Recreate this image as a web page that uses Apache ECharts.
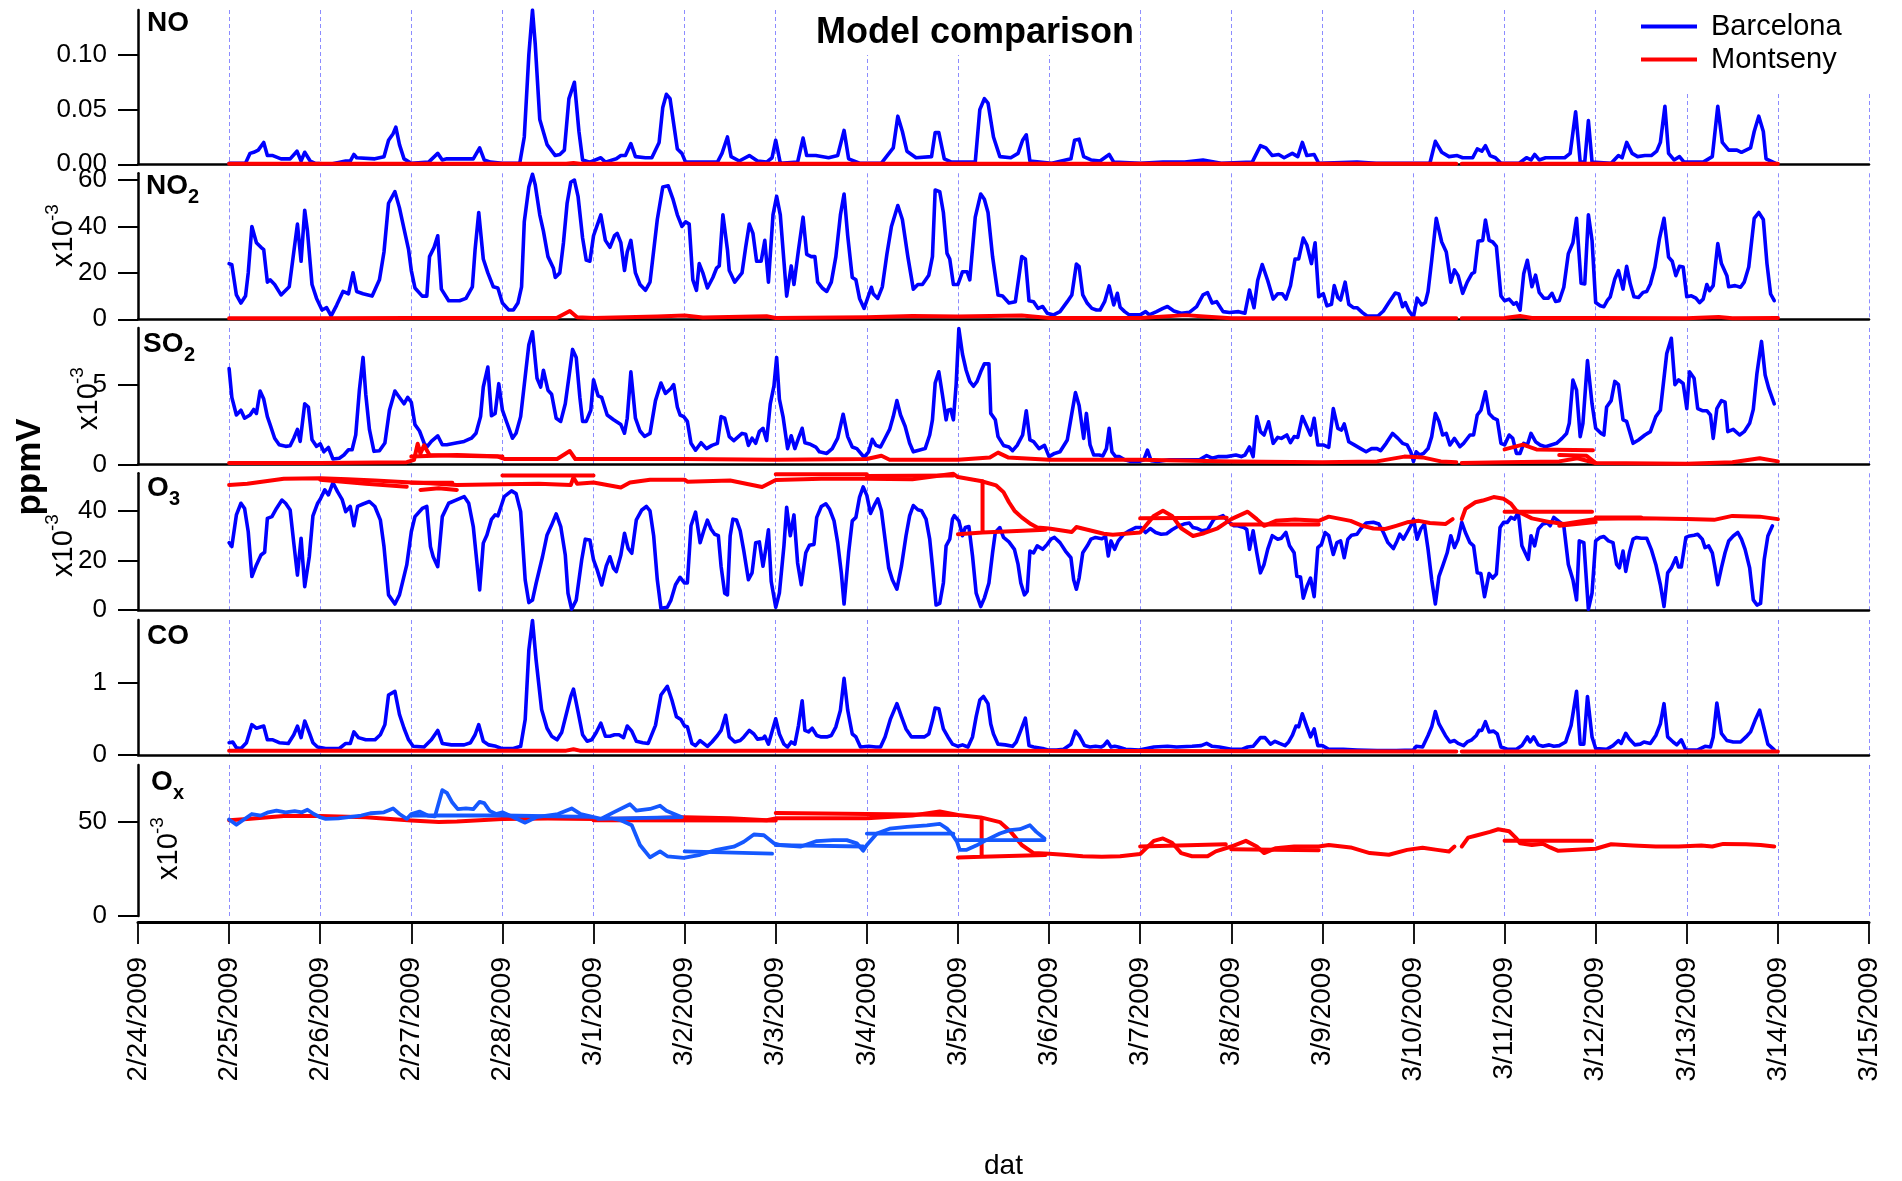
<!DOCTYPE html>
<html><head><meta charset="utf-8">
<script src="https://cdn.jsdelivr.net/npm/echarts@6/dist/echarts.min.js"></script>
<style>html,body{margin:0;padding:0;background:#fff}#c{width:1902px;height:1181px}</style>
</head><body><div id="c"></div>
<script>
// ---------- DATA ----------
const dateLabels = ['2/24/2009','2/25/2009','2/26/2009','2/27/2009','2/28/2009','3/1/2009','3/2/2009','3/3/2009','3/4/2009','3/5/2009','3/6/2009','3/7/2009','3/8/2009','3/9/2009','3/10/2009','3/11/2009','3/12/2009','3/13/2009','3/14/2009','3/15/2009'];
const yTicksNO = [0, 0.05, 0.10];
const yTicksNO2 = [0, 20, 40, 60];
const yTicksSO2 = [0, 5];
const yTicksO3 = [0, 20, 40];
const yTicksCO = [0, 1];
const yTicksOx = [0, 50];
// x = days after 2/24/2009 00:00

const noBcn = [[1,0.001],[1.18,0.001],[1.23,0.010],[1.27,0.011],[1.32,0.013],[1.38,0.020],[1.42,0.008],[1.48,0.008],[1.57,0.005],[1.67,0.005],[1.745,0.012],[1.79,0.003],[1.83,0.011],[1.89,0.003],[1.94,0.001],[2.11,0.0],[2.28,0.003],[2.33,0.003],[2.37,0.009],[2.40,0.006],[2.60,0.005],[2.70,0.007],[2.75,0.022],[2.80,0.028],[2.83,0.034],[2.87,0.018],[2.92,0.005],[3.0,0.001],[3.19,0.002],[3.29,0.010],[3.34,0.004],[3.39,0.005],[3.68,0.005],[3.75,0.015],[3.80,0.004],[3.87,0.002],[4.0,0.001],[4.19,0.001],[4.24,0.025],[4.29,0.100],[4.33,0.141],[4.36,0.110],[4.41,0.041],[4.49,0.018],[4.58,0.008],[4.63,0.009],[4.68,0.013],[4.73,0.060],[4.79,0.075],[4.84,0.030],[4.88,0.004],[4.96,0.002],[5.08,0.006],[5.13,0.002],[5.25,0.005],[5.30,0.008],[5.35,0.008],[5.41,0.019],[5.46,0.007],[5.57,0.006],[5.64,0.006],[5.72,0.020],[5.76,0.052],[5.80,0.064],[5.84,0.060],[5.92,0.014],[5.97,0.010],[6.01,0.002],[6.36,0.002],[6.41,0.010],[6.47,0.025],[6.51,0.007],[6.60,0.003],[6.71,0.008],[6.80,0.003],[6.90,0.002],[6.96,0.006],[7.0,0.022],[7.05,0.001],[7.24,0.002],[7.30,0.024],[7.34,0.008],[7.44,0.008],[7.58,0.006],[7.68,0.008],[7.75,0.031],[7.80,0.005],[7.92,0.001],[8.16,0.001],[8.29,0.015],[8.34,0.044],[8.39,0.030],[8.44,0.012],[8.54,0.006],[8.71,0.007],[8.75,0.029],[8.79,0.029],[8.85,0.005],[8.93,0.002],[9.19,0.002],[9.24,0.050],[9.29,0.060],[9.33,0.056],[9.39,0.025],[9.46,0.007],[9.58,0.006],[9.66,0.010],[9.71,0.022],[9.75,0.027],[9.79,0.003],[10.03,0.001],[10.24,0.005],[10.28,0.022],[10.33,0.023],[10.38,0.007],[10.46,0.004],[10.56,0.003],[10.66,0.009],[10.71,0.002],[11.0,0.001],[11.25,0.002],[11.49,0.002],[11.69,0.004],[11.89,0.001],[12.23,0.002],[12.32,0.017],[12.38,0.015],[12.45,0.008],[12.52,0.009],[12.58,0.006],[12.67,0.010],[12.73,0.007],[12.78,0.020],[12.83,0.008],[12.91,0.009],[12.96,0.001],[13.38,0.002],[13.59,0.001],[14.18,0.001],[14.24,0.021],[14.31,0.011],[14.39,0.007],[14.48,0.008],[14.54,0.006],[14.65,0.006],[14.70,0.014],[14.75,0.012],[14.79,0.017],[14.84,0.008],[14.90,0.006],[14.96,0.001],[15.16,0.001],[15.24,0.006],[15.29,0.004],[15.33,0.009],[15.38,0.004],[15.45,0.006],[15.66,0.006],[15.72,0.010],[15.78,0.048],[15.83,0.002],[15.88,0.002],[15.92,0.040],[15.96,0.002],[16.17,0.001],[16.25,0.008],[16.29,0.006],[16.34,0.020],[16.40,0.010],[16.46,0.007],[16.54,0.008],[16.61,0.008],[16.67,0.012],[16.71,0.020],[16.76,0.053],[16.80,0.010],[16.86,0.004],[16.92,0.007],[16.97,0.002],[17.18,0.002],[17.28,0.007],[17.34,0.053],[17.39,0.020],[17.46,0.013],[17.55,0.013],[17.60,0.011],[17.70,0.015],[17.74,0.030],[17.79,0.044],[17.84,0.030],[17.87,0.005],[17.97,0.001]];
const noMsy = [[1,0.0005],[4.7,0.0006],[4.78,0.0012],[4.85,0.0006],[9,0.0006],[14.47,0.0005],[14.5,'-'],[14.53,0.0005],[18,0.0005]];

const no2Bcn = [[1.0,24],[1.03,23.5],[1.08,10.5],[1.13,7],[1.18,10],[1.21,20],[1.25,40],[1.30,33],[1.35,31],[1.38,30],[1.42,16],[1.45,17],[1.50,15],[1.57,10.5],[1.66,14],[1.75,41],[1.79,25],[1.83,47],[1.86,38],[1.91,15],[1.96,9],[2.02,4],[2.07,5],[2.12,1.5],[2.18,6],[2.25,12],[2.31,11],[2.36,20],[2.40,12],[2.47,11],[2.57,10],[2.65,17],[2.70,29],[2.75,50],[2.82,55],[2.87,48],[2.92,39],[2.97,30],[3.0,21],[3.04,13.5],[3.12,10],[3.17,10],[3.20,27],[3.25,31],[3.29,36],[3.33,13],[3.41,8],[3.53,8],[3.60,9],[3.67,14],[3.70,30],[3.74,46],[3.79,26],[3.84,20],[3.90,14],[3.95,13.5],[4.0,7],[4.07,4],[4.12,4],[4.17,7],[4.21,14],[4.24,42],[4.29,57],[4.33,62.5],[4.36,58],[4.41,45],[4.45,38],[4.50,27],[4.56,22],[4.58,18],[4.63,20],[4.67,33],[4.71,50],[4.75,59],[4.79,60],[4.83,53],[4.88,35],[4.92,25.5],[4.96,25],[5.0,36],[5.08,45],[5.13,34],[5.18,31],[5.23,36],[5.26,37],[5.30,33],[5.34,21],[5.37,29],[5.41,34],[5.46,20],[5.51,15],[5.57,12.5],[5.62,16],[5.70,43],[5.76,57],[5.82,57.5],[5.87,52],[5.92,45],[5.97,40],[6.01,42],[6.05,41],[6.09,17],[6.13,12.5],[6.16,24],[6.20,20],[6.25,13.5],[6.31,18],[6.35,22],[6.38,23],[6.42,45],[6.47,30],[6.49,21],[6.55,16],[6.63,20],[6.67,31],[6.71,41],[6.75,37],[6.79,25],[6.84,25],[6.88,34],[6.92,16],[6.97,45],[7.01,53],[7.05,45],[7.09,25],[7.12,10],[7.17,23],[7.20,15],[7.25,30],[7.30,44],[7.34,28],[7.39,27],[7.43,27],[7.46,16],[7.51,13.5],[7.56,12],[7.61,16],[7.66,27],[7.71,45],[7.75,54],[7.79,36],[7.84,18],[7.88,17],[7.92,9],[7.97,4.7],[8.05,13.8],[8.07,11],[8.12,9],[8.17,14],[8.22,28],[8.27,40],[8.34,49],[8.39,43],[8.45,27],[8.51,13],[8.56,15],[8.61,15],[8.68,19],[8.72,27],[8.75,55.7],[8.80,55],[8.84,46],[8.88,28.4],[8.91,26],[8.95,15],[9.0,15],[9.05,20.5],[9.10,20.5],[9.13,17],[9.19,44],[9.25,54],[9.29,51.7],[9.33,46],[9.38,27],[9.44,10.5],[9.49,10],[9.56,7],[9.63,7.6],[9.70,27],[9.74,26],[9.78,8],[9.83,7.6],[9.88,4.7],[9.93,5.5],[9.98,2.6],[10.05,1.9],[10.12,3.3],[10.20,7.6],[10.25,10.5],[10.30,23.8],[10.33,22.7],[10.37,10.5],[10.42,6.9],[10.47,4.7],[10.52,4],[10.56,4],[10.61,7.6],[10.66,14.4],[10.71,6.2],[10.75,11.2],[10.78,5.2],[10.83,3.3],[10.88,1.9],[10.96,1.9],[11.0,1.9],[11.06,3.3],[11.10,1.9],[11.18,3.3],[11.25,4.7],[11.30,5.5],[11.37,3.6],[11.45,2.6],[11.54,3],[11.62,5.5],[11.69,10.5],[11.74,11.5],[11.79,7],[11.84,7.6],[11.91,3.3],[11.98,2.9],[12.08,3.3],[12.15,2.6],[12.20,12.6],[12.25,5],[12.29,16.7],[12.34,23.6],[12.40,16.7],[12.46,8.7],[12.51,11],[12.56,11],[12.60,8.7],[12.65,14.5],[12.70,26],[12.74,26],[12.79,35],[12.83,32],[12.88,24],[12.92,33],[12.96,9.7],[13.01,11],[13.05,5.8],[13.10,6.5],[13.13,14.5],[13.17,9.4],[13.20,8.3],[13.25,16],[13.29,6.5],[13.34,5],[13.38,5],[13.44,2.9],[13.49,1.4],[13.61,1.4],[13.67,3.6],[13.73,7.2],[13.80,11.3],[13.84,10.9],[13.88,5.4],[13.91,7.2],[13.95,3.6],[14.0,1],[14.04,9.1],[14.09,6.2],[14.13,7.2],[14.16,12],[14.20,25.4],[14.25,43.5],[14.31,33.3],[14.36,29],[14.41,16],[14.45,21.3],[14.49,18.8],[14.54,11.2],[14.59,16],[14.64,19.6],[14.67,20.3],[14.71,33.6],[14.76,34],[14.79,42.8],[14.83,34],[14.87,33.3],[14.91,31.4],[14.96,10.1],[15.0,8],[15.05,8.7],[15.10,6.5],[15.13,7.2],[15.17,3.9],[15.21,19.6],[15.25,25.4],[15.30,14],[15.34,19],[15.38,11.6],[15.43,9.1],[15.48,9.1],[15.52,11.2],[15.56,7.7],[15.60,8],[15.65,13.8],[15.70,28.3],[15.75,33],[15.79,43.5],[15.84,15.5],[15.88,15.2],[15.92,45],[15.96,34],[16.0,7.2],[16.05,5.8],[16.09,5.4],[16.13,8.3],[16.16,9.7],[16.21,17.4],[16.25,21],[16.30,13],[16.34,22.8],[16.38,15.2],[16.42,9.7],[16.47,9.4],[16.52,11.6],[16.56,12],[16.60,15.2],[16.65,22.5],[16.70,34.8],[16.75,43.5],[16.80,26.8],[16.84,25],[16.88,18.8],[16.92,22.8],[16.96,22.5],[17.0,9.7],[17.05,10.1],[17.10,9.1],[17.14,7.2],[17.18,8.7],[17.22,15],[17.25,12.3],[17.29,14.5],[17.34,32.6],[17.38,24],[17.44,18.8],[17.46,14],[17.53,14.5],[17.59,13.8],[17.63,16],[17.68,22.5],[17.74,43.5],[17.79,46],[17.84,43],[17.88,24],[17.92,10.9],[17.96,8]];
const no2Msy = [[1,0.4],[2,0.5],[3,0.6],[4,0.6],[4.6,0.7],[4.74,3.6],[4.82,0.9],[5,0.6],[5.7,1.2],[6,1.6],[6.2,0.8],[6.9,1.3],[7,0.6],[8,0.9],[8.5,1.4],[9,1.2],[9.7,1.6],[10,0.6],[11,0.6],[11.5,1.8],[11.7,1.2],[12,0.5],[13,0.5],[14,0.4],[14.47,0.4],[14.5,'-'],[14.53,0.4],[15,0.6],[15.17,1.4],[15.3,0.6],[16,0.6],[17,0.5],[17.35,1.0],[17.5,0.5],[18,0.6]];

const so2Bcn = [[1.0,6.0],[1.03,4.2],[1.08,3.1],[1.13,3.4],[1.17,2.9],[1.23,3.1],[1.27,3.45],[1.30,3.2],[1.34,4.6],[1.38,4.1],[1.42,3.0],[1.45,2.5],[1.50,1.65],[1.55,1.24],[1.62,1.14],[1.67,1.18],[1.71,1.65],[1.75,2.2],[1.78,1.45],[1.83,3.8],[1.87,3.6],[1.91,1.55],[1.96,1.14],[2.0,1.3],[2.04,0.8],[2.09,1.07],[2.14,0.35],[2.21,0.4],[2.26,0.6],[2.31,0.93],[2.35,0.93],[2.39,1.86],[2.43,4.65],[2.47,6.7],[2.50,4.4],[2.54,2.2],[2.59,0.83],[2.65,0.87],[2.71,1.35],[2.76,3.4],[2.82,4.6],[2.87,4.2],[2.92,3.8],[2.96,4.2],[3.0,3.9],[3.04,2.5],[3.09,2.1],[3.14,1.35],[3.17,1.1],[3.22,1.45],[3.29,1.8],[3.34,1.24],[3.39,1.24],[3.49,1.35],[3.58,1.45],[3.66,1.65],[3.71,1.96],[3.76,3.0],[3.79,4.85],[3.84,6.1],[3.88,3.05],[3.92,3.2],[3.96,5.06],[4.0,3.4],[4.05,2.6],[4.11,1.65],[4.15,1.96],[4.20,3.0],[4.25,5.5],[4.29,7.5],[4.33,8.3],[4.38,5.4],[4.42,4.85],[4.45,5.9],[4.50,4.65],[4.54,4.4],[4.59,2.9],[4.64,2.7],[4.69,3.8],[4.74,5.9],[4.77,7.2],[4.81,6.7],[4.85,4.2],[4.88,2.7],[4.92,2.7],[4.97,3.4],[5.0,5.3],[5.05,4.3],[5.09,4.2],[5.15,3.1],[5.22,2.8],[5.30,2.5],[5.34,1.96],[5.37,2.9],[5.41,5.8],[5.46,2.9],[5.51,2.1],[5.56,1.76],[5.62,1.95],[5.68,4.0],[5.74,5.1],[5.79,4.45],[5.85,4.76],[5.88,5.0],[5.92,3.6],[5.95,3.1],[5.99,3.0],[6.03,2.7],[6.07,1.33],[6.12,0.9],[6.18,1.37],[6.24,1.0],[6.30,1.2],[6.36,1.33],[6.40,3.0],[6.44,2.9],[6.49,1.75],[6.54,1.5],[6.59,1.75],[6.63,1.95],[6.67,1.9],[6.70,1.2],[6.74,1.65],[6.78,1.33],[6.82,2.06],[6.86,2.27],[6.90,1.5],[6.94,3.8],[6.98,4.9],[7.01,6.7],[7.04,4.1],[7.08,3.0],[7.13,1.0],[7.17,1.8],[7.21,1.0],[7.25,1.65],[7.29,2.27],[7.32,1.37],[7.37,1.29],[7.44,1.1],[7.48,0.8],[7.56,0.7],[7.62,1.0],[7.68,1.65],[7.74,3.15],[7.79,1.75],[7.84,1.1],[7.89,1.0],[7.97,0.46],[8.02,0.8],[8.06,1.58],[8.10,1.2],[8.15,1.1],[8.20,1.65],[8.25,2.2],[8.29,3.0],[8.33,4.0],[8.37,3.1],[8.42,2.4],[8.47,1.33],[8.51,0.8],[8.57,0.9],[8.64,1.0],[8.69,1.85],[8.72,2.8],[8.75,5.1],[8.79,5.8],[8.83,4.35],[8.87,2.8],[8.89,3.4],[8.92,3.45],[8.95,2.8],[8.98,5.0],[9.01,8.5],[9.05,6.9],[9.09,5.9],[9.13,5.2],[9.17,4.9],[9.21,5.2],[9.25,5.8],[9.29,6.3],[9.34,6.3],[9.36,3.2],[9.41,2.8],[9.44,1.75],[9.50,1.2],[9.56,1.1],[9.60,0.87],[9.65,1.2],[9.71,1.85],[9.75,3.37],[9.79,1.54],[9.83,1.43],[9.89,1.0],[9.95,1.2],[10.0,0.5],[10.06,0.7],[10.12,0.8],[10.20,1.54],[10.25,3.2],[10.29,4.5],[10.33,3.7],[10.38,1.64],[10.41,3.2],[10.45,1.23],[10.49,0.6],[10.55,0.6],[10.59,0.54],[10.63,1.0],[10.66,2.27],[10.69,0.8],[10.73,0.5],[10.77,0.5],[10.83,0.3],[10.90,0.2],[10.99,0.2],[11.04,0.3],[11.08,0.9],[11.12,0.25],[11.19,0.2],[11.32,0.3],[11.48,0.3],[11.65,0.3],[11.73,0.56],[11.79,0.4],[11.86,0.5],[11.95,0.5],[12.05,0.6],[12.11,0.5],[12.15,0.6],[12.20,1.1],[12.24,0.5],[12.28,3.0],[12.32,2.06],[12.36,1.85],[12.41,2.68],[12.46,1.33],[12.51,1.7],[12.55,1.64],[12.61,1.85],[12.65,1.37],[12.69,1.75],[12.73,1.7],[12.78,3.0],[12.83,2.37],[12.87,1.85],[12.91,2.9],[12.95,1.23],[13.01,1.23],[13.07,1.08],[13.12,3.5],[13.17,2.27],[13.21,2.16],[13.24,2.54],[13.29,1.43],[13.35,1.23],[13.42,1.0],[13.48,0.8],[13.54,1.0],[13.60,1.0],[13.64,0.87],[13.70,1.33],[13.77,1.95],[13.83,1.64],[13.88,1.33],[13.93,1.23],[13.97,0.8],[14.0,0.2],[14.03,0.8],[14.07,0.6],[14.11,0.7],[14.16,1.0],[14.20,1.75],[14.24,3.2],[14.28,2.7],[14.32,1.85],[14.36,1.95],[14.40,1.23],[14.45,1.64],[14.51,1.12],[14.55,1.33],[14.62,1.85],[14.66,1.85],[14.70,3.1],[14.74,3.4],[14.79,4.55],[14.83,3.2],[14.88,2.9],[14.92,2.8],[14.96,1.33],[15.0,1.23],[15.05,1.85],[15.09,1.64],[15.13,0.7],[15.17,0.7],[15.21,1.33],[15.25,1.23],[15.29,1.95],[15.34,1.43],[15.39,1.23],[15.45,1.12],[15.51,1.23],[15.57,1.33],[15.63,1.64],[15.68,1.95],[15.71,2.58],[15.75,5.28],[15.79,4.65],[15.83,1.75],[15.86,2.58],[15.91,6.5],[15.96,3.8],[16.0,2.27],[16.06,1.95],[16.09,1.85],[16.12,3.6],[16.17,4.0],[16.21,5.2],[16.25,5.0],[16.30,2.8],[16.34,2.7],[16.41,1.33],[16.47,1.54],[16.54,1.85],[16.60,2.06],[16.66,3.0],[16.71,3.4],[16.78,6.95],[16.83,7.9],[16.87,5.0],[16.91,5.3],[16.96,5.07],[17.0,3.5],[17.03,5.8],[17.08,5.4],[17.12,3.5],[17.17,3.37],[17.22,3.37],[17.26,3.1],[17.29,1.64],[17.33,3.5],[17.38,4.0],[17.42,3.9],[17.45,2.06],[17.51,2.2],[17.58,1.85],[17.63,2.06],[17.69,2.58],[17.73,3.45],[17.77,5.7],[17.82,7.7],[17.86,5.6],[17.90,4.76],[17.96,3.8]];
const so2Msy = [[1,0.1],[2,0.1],[2.95,0.15],[3.03,0.3],[3.07,1.3],[3.1,0.7],[3.14,1.2],[3.2,0.6],[3.5,0.55],[3.95,0.5],[4.02,0.35],[4.6,0.35],[4.74,0.85],[4.8,0.35],[5,0.35],[6,0.35],[7,0.3],[8,0.35],[8.16,0.55],[8.25,0.3],[9,0.3],[9.35,0.45],[9.44,0.75],[9.55,0.45],[10,0.3],[11,0.3],[12,0.2],[13,0.15],[13.6,0.2],[13.9,0.5],[14.1,0.45],[14.3,0.2],[14.47,0.15],[14.5,'-'],[14.53,0.1],[15,0.15],[15.6,0.2],[15.8,0.4],[16,0.1],[17,0.05],[17.5,0.15],[17.8,0.4],[18,0.2]];
const so2MsyB = [[3.0,0.5],[3.5,0.6],[4.0,0.5],[15.0,'-'],[15.0,0.95],[15.2,1.25],[15.35,0.95],[15.97,0.9],[16.0,'-'],[15.6,0.6],[15.9,0.55],[16.0,0.1]];

const o3Bcn = [[1.0,27.2],[1.03,25.6],[1.08,38.4],[1.13,43.1],[1.17,41],[1.21,31.6],[1.25,13.5],[1.30,18.2],[1.35,22.2],[1.39,23.3],[1.42,37],[1.47,37.7],[1.52,41],[1.58,44.4],[1.62,43.1],[1.67,40.4],[1.71,27],[1.75,14.1],[1.79,29],[1.83,9.4],[1.88,21.5],[1.92,38],[1.97,43],[2.0,44.7],[2.05,48.5],[2.09,46.5],[2.14,51.4],[2.19,47.8],[2.24,44.7],[2.28,39.7],[2.33,41.8],[2.37,34],[2.41,41.8],[2.47,42.8],[2.54,43.8],[2.60,41.8],[2.66,36.4],[2.70,25.6],[2.75,6.1],[2.82,2.4],[2.87,6.1],[2.95,18.2],[3.0,31.6],[3.04,37.7],[3.12,41],[3.17,41.8],[3.21,25.6],[3.24,21.5],[3.29,17.5],[3.34,37.7],[3.41,43.1],[3.49,44.4],[3.58,45.8],[3.63,43.1],[3.68,33.7],[3.75,8.1],[3.79,27],[3.83,30.3],[3.88,36.6],[3.92,38.4],[3.95,38],[3.99,42.4],[4.02,45.8],[4.10,48.1],[4.15,47],[4.20,39.7],[4.25,12.1],[4.29,3.0],[4.33,4],[4.37,10.8],[4.44,21.5],[4.49,30.3],[4.54,34.3],[4.59,38.8],[4.64,33.7],[4.69,22.2],[4.72,6.7],[4.76,0.3],[4.81,4],[4.87,20.2],[4.91,28.6],[4.96,28.3],[5.0,20.2],[5.04,16.2],[5.09,10.1],[5.14,17.8],[5.18,21.5],[5.22,16.8],[5.25,15.5],[5.30,22.2],[5.34,31],[5.38,24.9],[5.42,22.9],[5.47,36.4],[5.53,40.4],[5.58,41.8],[5.62,40],[5.66,30],[5.70,12.2],[5.74,0.7],[5.81,1.1],[5.85,4],[5.90,10.2],[5.95,13.2],[6.0,10.9],[6.03,10.9],[6.07,34],[6.12,39.5],[6.17,27.2],[6.21,32],[6.25,36.3],[6.29,32.7],[6.33,30.6],[6.37,30],[6.40,17.7],[6.44,6.8],[6.47,6.1],[6.50,30],[6.53,36.7],[6.57,36.3],[6.61,32],[6.65,23.8],[6.70,12.2],[6.74,15],[6.78,27.2],[6.82,27.5],[6.86,17.7],[6.89,24.5],[6.92,32.4],[6.95,11.6],[7.0,1.1],[7.04,6.8],[7.09,25.9],[7.12,41.5],[7.16,30],[7.20,38.4],[7.24,19],[7.28,10.2],[7.33,23.1],[7.37,26.1],[7.42,26.5],[7.45,37.4],[7.50,41.8],[7.55,42.9],[7.59,40.8],[7.64,36],[7.68,27.2],[7.72,15],[7.75,2.4],[7.80,23.1],[7.84,36],[7.88,37.4],[7.92,45.6],[7.96,49.7],[8.0,46.3],[8.04,39],[8.09,42.9],[8.12,44.9],[8.16,40.1],[8.20,28.6],[8.24,17],[8.28,12.2],[8.33,8.4],[8.38,17.7],[8.43,30],[8.47,38.1],[8.51,42.2],[8.56,40.5],[8.60,40.1],[8.65,36.7],[8.69,28.6],[8.72,17.7],[8.76,2],[8.80,2.7],[8.84,10.9],[8.87,25.9],[8.91,28.6],[8.94,36.7],[8.96,38.1],[9.01,36],[9.05,30],[9.08,33.3],[9.12,33.7],[9.16,21.8],[9.20,6.8],[9.25,1.4],[9.29,4.8],[9.34,10.9],[9.38,23.1],[9.41,31.3],[9.46,33.3],[9.50,29.3],[9.56,27.5],[9.62,24.5],[9.66,18.4],[9.69,10.9],[9.73,6.1],[9.76,7.5],[9.79,23.8],[9.83,23.1],[9.87,25.9],[9.93,24.5],[9.98,26.5],[10.02,28.6],[10.06,29.3],[10.12,27.2],[10.18,23.8],[10.24,21.1],[10.27,12.2],[10.30,8.4],[10.33,12.9],[10.37,23.1],[10.42,25.9],[10.46,28.6],[10.51,29.3],[10.58,28.8],[10.62,29.7],[10.65,21.8],[10.68,27.9],[10.72,24.5],[10.76,27.9],[10.82,30.6],[10.88,32],[10.95,33.3],[11.01,33.3],[11.06,31.3],[11.11,32.9],[11.17,31.3],[11.23,30.6],[11.29,30.8],[11.35,32.4],[11.41,33.7],[11.48,34.7],[11.54,35.1],[11.58,33.3],[11.63,32.9],[11.68,32],[11.74,32.4],[11.81,36.7],[11.86,37.4],[11.91,38.1],[11.97,35.6],[12.03,34],[12.07,34],[12.14,33.3],[12.17,32.5],[12.20,24.5],[12.24,32],[12.28,23.1],[12.32,15],[12.36,18.4],[12.40,24.5],[12.45,30],[12.51,28.6],[12.55,29],[12.60,31.3],[12.64,25.9],[12.69,23.1],[12.72,13.6],[12.76,13.3],[12.79,4.8],[12.83,9.5],[12.87,12.9],[12.91,5.4],[12.95,25.2],[12.99,26.5],[13.03,31.3],[13.07,30],[13.12,22.4],[13.16,27.2],[13.20,27.9],[13.24,21.1],[13.28,28.6],[13.32,30.2],[13.38,30.6],[13.42,32.7],[13.48,35.1],[13.56,35.4],[13.62,34.7],[13.67,31.3],[13.72,27.2],[13.78,24.8],[13.82,27.9],[13.85,30.6],[13.89,28.6],[13.93,31.3],[13.98,34.7],[14.0,36.7],[14.04,28.6],[14.08,32.7],[14.12,34.7],[14.16,24.5],[14.20,12.2],[14.24,2.4],[14.28,13.6],[14.32,17.7],[14.37,23.1],[14.41,30],[14.45,25.2],[14.49,28.6],[14.53,35.4],[14.57,31.3],[14.62,27.2],[14.66,25.9],[14.70,15],[14.74,14.7],[14.78,5.4],[14.83,14.7],[14.87,12.9],[14.91,14.5],[14.95,33.3],[14.99,35.4],[15.03,35.4],[15.07,37.4],[15.11,36.7],[15.15,39.5],[15.19,25.9],[15.21,25.9],[15.26,20.4],[15.29,30],[15.33,25.9],[15.37,32.7],[15.42,34.7],[15.47,35.1],[15.50,34],[15.54,37.4],[15.61,35.4],[15.65,34],[15.70,18.4],[15.75,12.2],[15.79,4.1],[15.82,27.9],[15.87,27.2],[15.92,0.3],[15.96,6.8],[16.0,27.9],[16.05,29.3],[16.09,29.7],[16.14,27.9],[16.19,27.2],[16.23,18.4],[16.26,17],[16.30,23.8],[16.33,15.6],[16.37,23.1],[16.41,28.6],[16.45,29.3],[16.50,29],[16.56,29],[16.61,24.5],[16.66,18.4],[16.71,10.2],[16.75,1.4],[16.79,15],[16.83,17],[16.88,21.1],[16.91,17.4],[16.94,17.4],[16.99,29.3],[17.03,29.9],[17.08,30.2],[17.12,30.6],[17.17,28.6],[17.20,25.2],[17.24,25.9],[17.28,23.1],[17.31,17],[17.34,10.2],[17.38,17],[17.42,23.1],[17.46,27.9],[17.51,29.9],[17.56,31.3],[17.60,28.6],[17.64,24.5],[17.69,17],[17.73,4.1],[17.77,2],[17.81,2.7],[17.85,20.4],[17.89,29.9],[17.94,34]];
const o3Msy = [[1,50.5],[1.2,51],[1.4,52],[1.6,53],[2,53.2],[2.3,52.8],[2.6,52.3],[3,51.5],[3.2,51.2],[3.5,50.5],[4,50.8],[4.4,51],[4.75,50.5],[4.78,53.5],[4.82,51],[5,51.5],[5.3,49.5],[5.4,51.5],[5.62,52.6],[6,52.6],[6.03,51.8],[6.5,52.3],[6.85,49.7],[7,52.5],[7.5,53],[8,53],[8.5,52.8],[8.95,55],[9,53.7],[9.25,52.1],[9.42,50.3],[9.5,47.6],[9.56,43.5],[9.62,40.1],[9.7,37.4],[9.8,34.7],[9.87,33.3],[10,32.9],[10.25,31.5],[10.3,33.5],[10.6,30.8],[10.7,30.4],[11,31.3],[11.15,38],[11.25,40.1],[11.35,38],[11.45,33],[11.58,29.9],[11.7,31],[11.85,33],[12,36.7],[12.18,39.7],[12.28,36.7],[12.36,34],[12.49,36],[12.7,36.5],[12.96,36],[13.07,37.7],[13.31,36],[13.44,34],[13.56,32.9],[13.69,32.7],[13.81,34],[13.93,35.4],[14.06,36],[14.18,35.1],[14.35,34.7],[14.43,36.7],[14.5,'-'],[14.53,36.7],[14.57,40.8],[14.68,43.5],[14.76,44.2],[14.88,45.6],[14.99,44.9],[15.07,42.9],[15.13,40.1],[15.3,37],[15.5,35.5],[15.65,34.7],[16,36.8],[16.5,37],[17,36.7],[17.3,36.4],[17.5,38],[17.8,37.7],[18,36.7]];
const o3MsyB = [[2,52.6],[2.5,51],[2.95,49.8],[3,'-'],[3,51.4],[3.45,51.4],[3.5,'-'],[3.1,48.5],[3.3,49.2],[3.5,48.5],[3.5,'-'],[4,54.3],[5,54.3],[5,'-'],[7,54.8],[8,54.8],[8,'-'],[8,54.1],[8.95,54.3],[9,'-'],[9,30.6],[9.27,31.3],[9.27,52],[9.3,'-'],[9.27,31.3],[9.96,32.4],[10,'-'],[11,37],[11.95,37.3],[12,'-'],[12,34.5],[12.96,34.5],[13,'-'],[15,39.7],[15.96,39.7],[16,'-'],[15.6,34],[16,35.5],[16,'-'],[16,37.4],[16.5,37.4]];

const coBcn = [[1.0,0.17],[1.04,0.18],[1.08,0.10],[1.13,0.09],[1.19,0.17],[1.25,0.42],[1.30,0.37],[1.38,0.40],[1.42,0.21],[1.48,0.21],[1.55,0.17],[1.65,0.16],[1.71,0.28],[1.75,0.40],[1.79,0.24],[1.83,0.47],[1.88,0.31],[1.92,0.17],[1.97,0.11],[2.06,0.09],[2.21,0.09],[2.28,0.16],[2.33,0.16],[2.37,0.32],[2.42,0.24],[2.50,0.21],[2.60,0.21],[2.66,0.28],[2.71,0.42],[2.75,0.83],[2.82,0.88],[2.87,0.56],[2.92,0.37],[2.97,0.21],[3.02,0.12],[3.14,0.11],[3.22,0.21],[3.29,0.34],[3.34,0.16],[3.44,0.14],[3.58,0.14],[3.65,0.17],[3.70,0.28],[3.74,0.42],[3.79,0.19],[3.85,0.14],[3.93,0.12],[3.99,0.09],[4.12,0.09],[4.20,0.12],[4.25,0.49],[4.29,1.45],[4.33,1.86],[4.37,1.31],[4.43,0.63],[4.49,0.37],[4.54,0.26],[4.60,0.21],[4.65,0.31],[4.70,0.56],[4.75,0.81],[4.78,0.91],[4.83,0.60],[4.88,0.28],[4.93,0.19],[4.98,0.21],[5.03,0.31],[5.08,0.44],[5.13,0.26],[5.18,0.26],[5.23,0.28],[5.28,0.28],[5.33,0.24],[5.37,0.40],[5.42,0.33],[5.47,0.19],[5.54,0.17],[5.60,0.16],[5.68,0.41],[5.74,0.83],[5.81,0.95],[5.86,0.76],[5.91,0.53],[5.96,0.49],[6.0,0.40],[6.03,0.39],[6.08,0.16],[6.12,0.13],[6.17,0.2],[6.25,0.12],[6.30,0.18],[6.36,0.27],[6.40,0.34],[6.45,0.55],[6.49,0.25],[6.55,0.18],[6.61,0.2],[6.65,0.25],[6.71,0.34],[6.76,0.29],[6.80,0.22],[6.86,0.23],[6.88,0.26],[6.92,0.15],[7.0,0.5],[7.04,0.29],[7.09,0.15],[7.13,0.11],[7.17,0.18],[7.21,0.15],[7.25,0.41],[7.29,0.75],[7.32,0.34],[7.36,0.32],[7.40,0.37],[7.45,0.27],[7.50,0.25],[7.56,0.25],[7.61,0.27],[7.66,0.39],[7.71,0.62],[7.75,1.06],[7.79,0.62],[7.84,0.29],[7.88,0.25],[7.93,0.11],[8.02,0.12],[8.10,0.11],[8.15,0.11],[8.20,0.25],[8.26,0.5],[8.33,0.71],[8.38,0.53],[8.43,0.36],[8.49,0.25],[8.55,0.25],[8.63,0.25],[8.68,0.29],[8.72,0.48],[8.75,0.65],[8.79,0.64],[8.84,0.36],[8.89,0.25],[8.94,0.15],[9.0,0.12],[9.05,0.14],[9.11,0.11],[9.16,0.25],[9.20,0.53],[9.24,0.76],[9.28,0.81],[9.33,0.71],[9.36,0.43],[9.39,0.29],[9.44,0.15],[9.52,0.14],[9.60,0.12],[9.64,0.18],[9.69,0.34],[9.74,0.51],[9.78,0.13],[9.83,0.11],[9.93,0.09],[9.99,0.07],[10.08,0.07],[10.16,0.08],[10.24,0.15],[10.29,0.33],[10.33,0.27],[10.39,0.13],[10.45,0.11],[10.51,0.12],[10.57,0.11],[10.60,0.13],[10.64,0.19],[10.68,0.11],[10.72,0.12],[10.76,0.11],[10.84,0.08],[10.99,0.07],[11.15,0.11],[11.30,0.12],[11.40,0.11],[11.57,0.12],[11.67,0.13],[11.73,0.16],[11.79,0.12],[11.87,0.11],[12.0,0.08],[12.12,0.08],[12.18,0.11],[12.24,0.12],[12.28,0.18],[12.32,0.24],[12.37,0.24],[12.43,0.15],[12.48,0.19],[12.53,0.16],[12.59,0.13],[12.63,0.18],[12.67,0.27],[12.71,0.40],[12.74,0.39],[12.78,0.57],[12.83,0.39],[12.87,0.25],[12.91,0.36],[12.95,0.13],[13.0,0.13],[13.07,0.08],[13.23,0.08],[13.38,0.07],[13.60,0.06],[13.81,0.06],[14.0,0.07],[14.03,0.12],[14.10,0.11],[14.16,0.27],[14.20,0.39],[14.24,0.6],[14.28,0.43],[14.35,0.27],[14.40,0.18],[14.45,0.2],[14.49,0.16],[14.55,0.13],[14.59,0.18],[14.64,0.21],[14.69,0.27],[14.72,0.34],[14.75,0.34],[14.79,0.46],[14.83,0.32],[14.88,0.33],[14.92,0.29],[14.96,0.11],[15.03,0.08],[15.13,0.08],[15.19,0.13],[15.25,0.25],[15.28,0.18],[15.32,0.25],[15.37,0.14],[15.42,0.12],[15.49,0.14],[15.54,0.12],[15.60,0.13],[15.67,0.18],[15.73,0.41],[15.79,0.88],[15.83,0.15],[15.87,0.15],[15.91,0.81],[15.96,0.25],[16.0,0.09],[16.12,0.08],[16.19,0.13],[16.25,0.2],[16.28,0.16],[16.33,0.3],[16.37,0.22],[16.43,0.14],[16.49,0.15],[16.53,0.18],[16.60,0.16],[16.66,0.27],[16.71,0.43],[16.75,0.71],[16.79,0.25],[16.85,0.18],[16.89,0.14],[16.94,0.21],[16.99,0.07],[17.12,0.07],[17.20,0.12],[17.26,0.11],[17.29,0.25],[17.33,0.72],[17.38,0.3],[17.44,0.2],[17.51,0.18],[17.59,0.18],[17.65,0.25],[17.70,0.32],[17.75,0.48],[17.80,0.62],[17.85,0.36],[17.89,0.15],[17.96,0.07]];
const coMsy = [[1,0.06],[4.7,0.06],[4.78,0.08],[4.85,0.06],[9,0.06],[14.47,0.05],[14.5,'-'],[14.53,0.05],[18,0.05]];

const oxBcn = [[1.0,51.4],[1.08,48.6],[1.15,51],[1.25,54.3],[1.35,53.5],[1.43,55.2],[1.52,56.1],[1.62,55.2],[1.72,55.8],[1.8,55.2],[1.86,56.6],[1.93,54.3],[2.0,52.6],[2.06,51.7],[2.2,52],[2.31,52.6],[2.45,53.5],[2.55,54.7],[2.7,55.2],[2.8,57.3],[2.87,54.3],[2.95,51.7],[3.0,54.3],[3.09,55.6],[3.18,53.5],[3.26,53.1],[3.34,67],[3.39,65.6],[3.45,60.4],[3.51,56.9],[3.6,57.3],[3.68,56.9],[3.75,60.8],[3.8,60.1],[3.86,56],[3.93,54.3],[4.0,55.2],[4.12,52.6],[4.25,49.7],[4.37,52.6],[4.61,54.3],[4.76,57.3],[4.86,54.3],[5.0,52.6],[5.08,51.7],[5.22,55.2],[5.4,59.5],[5.47,56.1],[5.62,57],[5.73,58.7],[5.8,56.1],[5.97,52.6],[5.05,51.7],[5.2,52],[5.3,51],[5.42,48.3],[5.51,37.8],[5.62,31.2],[5.73,34.4],[5.81,31.8],[5.99,31],[6.17,32.6],[6.35,35.2],[6.54,36.9],[6.65,39.5],[6.76,43.4],[6.87,43],[6.98,38.7],[7.05,37.8],[7.27,36.9],[7.45,39.9],[7.63,40.4],[7.78,40.4],[7.89,38.7],[7.96,34.7],[8.0,37.8],[8.11,43.9],[8.25,46.5],[8.44,47.4],[8.66,48.3],[8.8,49.1],[8.88,46.5],[8.93,43.9],[8.99,39.5],[9.02,35.2],[9.09,35.2],[9.2,37.5],[9.31,40.4],[9.46,43.9],[9.57,45.7],[9.68,46.2],[9.79,48.3],[9.86,44.8],[9.95,41.3]];
const oxBcnB = [[3.0,53.5],[3.98,53.5],[4,'-'],[4.0,53.5],[4.98,52.8],[5,'-'],[6.0,34.4],[6.96,33.2],[7,'-'],[7.0,37.7],[7.96,37],[8,'-'],[8.0,43.9],[8.95,43.9],[9,'-'],[9.0,40.4],[9.95,40.4]];
const oxMsy = [[1,51],[1.2,51.7],[1.6,53.3],[2,53.3],[2.5,52.6],[3,50.9],[3.3,50],[3.5,50.3],[4,51.7],[4.5,51.9],[5,51.7],[5.5,51.9],[6,52.6],[6.5,52],[6.9,51],[7,52],[8,52],[8.5,53.5],[8.8,55.6],[9,53.8],[9.25,52.5],[9.46,50],[9.58,44.8],[9.7,37.8],[9.83,33.5],[10,33.2],[10.16,32.6],[10.37,31.8],[10.58,31.5],[10.78,31.8],[11,33],[11.15,40],[11.25,41.3],[11.35,39],[11.45,33.5],[11.57,31.8],[11.74,31.8],[11.83,34.4],[12,37],[12.16,40],[12.28,37],[12.36,33.5],[12.49,36.1],[12.69,37],[12.96,37],[13.07,37.8],[13.31,36.5],[13.52,33.5],[13.73,32.6],[13.93,35.2],[14.1,36.3],[14.26,35.2],[14.39,34.4],[14.45,37],[14.5,'-'],[14.53,37],[14.6,41.7],[14.68,42.7],[14.84,44.8],[14.93,46.2],[15.05,45.1],[15.13,41.3],[15.17,38.7],[15.3,37.8],[15.42,38.5],[15.5,36.5],[15.59,34.7],[16,35.8],[16.17,38.2],[16.41,37.5],[16.66,37],[16.91,37],[17.16,37.5],[17.28,37],[17.4,38.4],[17.65,38.2],[17.81,37.8],[17.96,37]];
const oxMsyB = [[7,54.8],[8,54.3],[9,53.8],[9,'-'],[9,31.2],[9.26,31.5],[9.26,51],[9.3,'-'],[9.26,31.5],[9.96,32.5],[10,'-'],[11,37],[11.94,38.2],[12,'-'],[12,35.5],[12.96,35],[13,'-'],[15,40.1],[15.96,40.1],[16,'-'],[5,51],[7,50.8]];

// ---------- CHART ----------
const FF = "'Liberation Sans', Arial, Helvetica, sans-serif";
const BLUE = '#0000ff', RED = '#ff0000', LBLUE = '#1558ff';
const GL = 138, GW = 1731;
const panels = [
  {top:10,    h:154.3, max:0.1411, ticks:yTicksNO,  fmt:v=>v.toFixed(2)},
  {top:173.3, h:146,   max:62.9,   ticks:yTicksNO2, fmt:v=>String(v)},
  {top:328,   h:136.6, max:8.54,   ticks:yTicksSO2, fmt:v=>String(v)},
  {top:473.3, h:136.7, max:55.2,   ticks:yTicksO3,  fmt:v=>String(v)},
  {top:620,   h:135,   max:1.867,  ticks:yTicksCO,  fmt:v=>String(v)},
  {top:765,   h:154.3, max:80.4,   ticks:yTicksOx,  fmt:v=>String(v)}
];
const grid = [], xAxis = [], yAxis = [];
panels.forEach((p, i) => {
  const last = i === panels.length - 1;
  grid.push({left: GL, width: GW, top: p.top, height: p.h});
  xAxis.push({
    gridIndex: i, type: 'value', min: 0, max: 19, interval: 1,
    offset: last ? 6 : 0,
    axisLine: {show: true, onZero: false, lineStyle: {color: '#000', width: last ? 3 : 2.5}},
    axisTick: {show: last, length: 22, lineStyle: {color: '#000', width: 1.8}},
    axisLabel: {show: last, rotate: 90, margin: 35, fontSize: 28, color: '#000', fontFamily: FF,
                formatter: v => dateLabels[Math.round(v)] || ''},
    splitLine: {show: true, lineStyle: {color: '#8c8cff', type: [4, 3], width: 1}},
    name: last ? 'dat' : '', nameLocation: 'middle', nameGap: 230,
    nameTextStyle: {fontSize: 28, color: '#000', fontFamily: FF}
  });
  yAxis.push({
    gridIndex: i, type: 'value', min: 0, max: p.max,
    axisLine: {show: true, lineStyle: {color: '#000', width: 2.5}},
    axisTick: {show: true, length: 20, customValues: p.ticks, lineStyle: {color: '#000', width: 2}},
    axisLabel: {show: true, margin: 31, fontSize: 26, color: '#000', fontFamily: FF,
                customValues: p.ticks, formatter: p.fmt},
    splitLine: {show: false}
  });
});

function ln(name, i, data, color, width) {
  return {name, type: 'line', xAxisIndex: i, yAxisIndex: i, data, showSymbol: false, symbol: 'none',
          connectNulls: false, animation: false, silent: true,
          lineStyle: {color, width, join: 'round', cap: 'round'}, itemStyle: {color}};
}
const series = [
  ln('Barcelona', 0, noBcn, BLUE, 3.6),
  ln('Montseny', 0, noMsy, RED, 4),
  ln('Barcelona', 1, no2Bcn, BLUE, 3.6),
  ln('Montseny', 1, no2Msy, RED, 4),
  ln('Barcelona', 2, so2Bcn, BLUE, 3.6),
  ln('Montseny', 2, so2Msy, RED, 4),
  ln('Montseny', 2, so2MsyB, RED, 4),
  ln('Barcelona', 3, o3Bcn, BLUE, 3.6),
  ln('Montseny', 3, o3Msy, RED, 4),
  ln('Montseny', 3, o3MsyB, RED, 4),
  ln('Barcelona', 4, coBcn, BLUE, 3.6),
  ln('Montseny', 4, coMsy, RED, 4),
  ln('Montseny', 5, oxMsy, RED, 4),
  ln('Montseny', 5, oxMsyB, RED, 4),
  ln('Barcelona', 5, oxBcn, LBLUE, 3.8),
  ln('Barcelona', 5, oxBcnB, LBLUE, 3.8)
];

function txt(x, y, t, size, bold, align) {
  return {type: 'text', x, y, z: 100, silent: true,
    style: {text: t, font: (bold ? 'bold ' : '') + size + 'px ' + FF, fill: '#000',
            align: align || 'left', verticalAlign: 'middle', textAlign: align || 'left', textVerticalAlign: 'middle'}};
}
function chem(x, y, main, sub, subDx) {
  const out = [txt(x, y, main, 28, true)];
  if (sub) out.push(txt(x + subDx, y + 11, sub, 20, true));
  return out;
}
function sci(x, y) {
  return {type: 'group', x, y, rotation: Math.PI / 2, z: 100, silent: true,
    children: [txt(0, 0, 'x10', 29, false), txt(46, -11, '-3', 19, false)]};
}
const graphic = [].concat(
  chem(147, 23, 'NO'),
  chem(146, 186, 'NO', '2', 42),
  chem(143, 344, 'SO', '2', 41),
  chem(147, 488, 'O', '3', 22),
  chem(147, 636, 'CO'),
  chem(151, 782, 'O', 'x', 22),
  [sci(64, 267), sci(89, 430), sci(64, 577), sci(169, 880)],
  [{type: 'text', x: 30, y: 467, rotation: Math.PI / 2, z: 100, silent: true,
    style: {text: 'ppmV', font: 'bold 35px ' + FF, fill: '#000', align: 'center', verticalAlign: 'middle',
            textAlign: 'center', textVerticalAlign: 'middle'}}]
);

const chart = echarts.init(document.getElementById('c'), null, {renderer: 'canvas'});
chart.setOption({
  animation: false,
  backgroundColor: '#fff',
  title: {text: 'Model comparison', left: 810, top: 0, padding: [15, 6, 4, 6], backgroundColor: '#fff',
          textStyle: {fontSize: 36, fontWeight: 'bold', color: '#000', fontFamily: FF}, z: 50},
  legend: {data: ['Barcelona', 'Montseny'], orient: 'vertical', left: 1634, top: 0,
           padding: [12, 60, 20, 7], itemGap: 4, itemWidth: 56, itemHeight: 4, icon: 'rect',
           backgroundColor: '#fff', selectedMode: false, z: 50,
           textStyle: {fontSize: 29, color: '#000', fontFamily: FF, padding: [0, 0, 0, 9]}},
  grid, xAxis, yAxis, series, graphic
});
</script></body></html>
